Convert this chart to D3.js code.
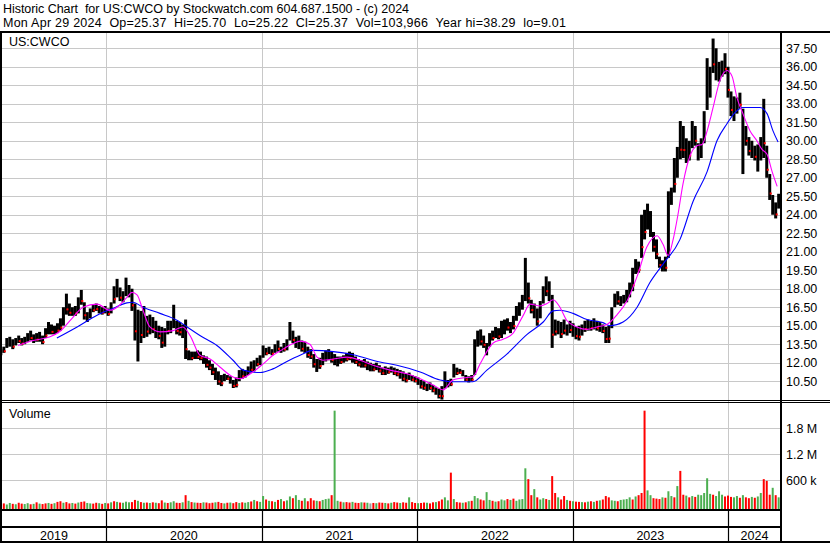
<!DOCTYPE html>
<html><head><meta charset="utf-8">
<script src="https://cdn.jsdelivr.net/npm/d3@7"></script>
<style>
body{margin:0;background:#fff;}
svg{display:block;font-family:"Liberation Sans",Arial,sans-serif;}
</style></head><body>
<svg id="c" width="830" height="543"></svg>
<script>
const startDate = "2019-04-29";
const highs = [13.1,13.3,14.0,14.1,13.9,14.0,14.2,14.0,14.1,14.4,
14.6,14.3,14.4,14.5,14.2,14.8,15.3,15.1,15.0,15.2,
15.6,16.5,17.6,16.8,16.5,16.6,17.3,17.9,16.9,16.1,
16.4,16.7,16.8,16.6,16.5,16.6,16.4,16.9,18.2,18.8,
18.1,17.8,18.9,18.3,18.0,16.8,16.3,16.2,16.6,15.8,
15.9,15.7,15.4,15.0,14.9,14.8,15.4,15.4,16.7,15.4,
15.3,15.1,15.5,13.0,12.9,12.9,13.0,12.9,12.6,12.5,
12.2,11.9,11.6,11.3,11.0,11.1,11.0,10.9,10.6,10.8,
11.4,11.5,11.4,11.7,12.1,12.2,12.4,12.6,13.4,13.2,
13.3,13.1,13.5,13.8,13.3,13.6,13.9,15.3,14.6,14.1,
14.2,13.8,13.7,13.3,13.1,12.7,12.3,12.4,12.8,13.0,
13.1,12.9,12.7,12.5,12.5,12.6,12.8,12.9,12.8,12.5,
12.3,12.2,12.3,12.1,12.0,11.9,12.0,11.8,11.6,11.7,
11.6,11.7,11.6,11.5,11.4,11.3,11.1,11.2,11.0,10.9,
10.8,10.6,10.5,10.3,10.4,10.2,10.0,9.9,10.1,11.3,
10.6,10.7,11.9,11.6,11.5,11.4,11.0,10.9,11.0,13.9,
14.6,14.7,14.2,13.6,14.4,14.6,14.9,14.8,15.4,15.5,
15.6,15.3,15.8,16.6,16.9,17.5,20.5,18.5,17.1,16.8,
16.4,17.0,18.2,19.0,18.6,17.5,15.5,15.4,15.3,15.5,
15.1,15.4,15.2,14.9,15.0,15.1,15.4,15.5,15.4,15.6,
15.4,15.3,15.1,14.9,15.0,16.5,17.6,17.8,17.4,17.5,
17.9,18.5,19.7,20.4,20.2,24.0,24.4,24.9,24.3,22.6,
22.0,20.6,20.3,20.6,25.9,26.2,28.6,29.5,31.6,31.2,
30.2,30.0,31.6,31.2,29.8,30.2,32.4,36.7,36.0,38.29,
37.5,36.4,36.5,37.1,36.0,34.0,33.6,33.5,33.9,32.6,
31.2,30.3,30.0,29.6,29.7,30.3,33.4,29.6,27.3,25.6,
25.0,25.7];
const lows = [12.6,12.8,13.2,13.3,13.1,13.4,13.6,13.4,13.5,13.7,
13.8,13.6,13.7,13.7,13.5,14.0,14.3,14.3,14.3,14.4,
14.6,15.0,15.9,15.8,15.8,15.8,16.0,16.7,15.5,15.3,
15.6,16.1,16.2,16.0,15.9,16.0,15.8,16.0,16.8,17.3,
17.0,16.9,17.4,17.3,16.2,13.8,12.1,13.6,14.0,14.1,
14.3,14.4,14.0,13.9,13.2,13.3,14.3,14.4,14.8,14.3,
14.2,14.0,12.3,12.2,12.2,12.3,12.3,12.2,11.9,11.6,
11.4,11.0,10.6,10.2,10.1,10.5,10.6,10.3,9.95,10.0,
10.5,10.7,10.8,11.0,11.2,11.3,11.7,11.8,12.4,12.6,
12.7,12.6,12.8,12.9,12.8,12.9,13.0,13.8,13.6,13.2,
13.1,12.9,12.8,12.4,12.3,11.6,11.25,11.5,11.8,12.1,
12.2,12.0,11.8,11.7,11.9,12.0,12.1,12.2,12.0,11.9,
11.7,11.6,11.6,11.4,11.3,11.3,11.4,11.2,11.0,11.0,
11.1,11.2,11.0,10.9,10.7,10.5,10.4,10.6,10.5,10.4,
10.2,9.9,9.8,9.7,9.8,9.6,9.4,9.1,9.01,9.9,
10.0,10.1,10.8,11.0,11.1,10.9,10.5,10.4,10.5,11.0,
13.3,13.4,13.2,12.6,13.3,13.8,14.0,13.9,14.0,14.3,
14.6,14.4,14.7,15.4,15.8,16.3,17.0,16.8,16.0,15.6,
15.0,15.6,16.8,17.4,17.0,13.2,14.2,14.3,14.0,14.3,
14.2,14.4,14.1,13.9,13.8,14.2,14.5,14.6,14.6,14.7,
14.6,14.5,14.4,13.6,13.6,14.8,16.5,16.7,16.6,16.8,
16.9,17.3,17.8,19.2,19.3,20.5,22.0,22.8,22.2,21.0,
20.4,19.7,19.4,19.4,20.5,24.8,25.8,27.0,28.5,28.6,
28.2,28.4,29.4,29.6,28.4,28.6,29.8,32.5,33.5,35.5,
34.9,34.8,35.2,35.4,33.5,32.0,31.6,32.2,32.6,27.3,
29.6,28.8,28.6,28.4,27.5,28.4,28.6,27.0,25.2,24.0,
23.7,24.5];
const volumes = [45,60,35,70,50,40,75,55,45,65,
40,50,85,55,45,60,70,50,65,95,
110,75,90,60,70,55,80,95,105,70,
60,55,75,65,50,70,60,85,110,95,
80,75,100,85,90,140,120,90,75,80,
70,85,75,65,130,80,70,85,110,75,
70,85,250,120,90,80,75,70,85,80,
65,75,85,95,70,60,75,80,65,90,
70,85,75,90,105,140,110,95,230,150,
120,110,95,140,160,110,130,220,180,250,
140,120,180,110,180,130,120,110,140,160,
170,250,2200,120,100,85,90,80,95,75,
70,85,80,75,60,70,65,80,75,70,
60,75,90,80,70,85,75,200,90,70,
65,70,80,75,60,85,90,110,150,200,
130,770,160,90,80,75,85,110,120,230,
180,150,130,320,140,120,100,110,150,130,
160,140,170,120,150,160,870,620,250,390,
200,150,180,160,140,690,300,200,150,230,
140,120,110,100,95,90,85,100,110,95,
120,130,150,230,200,130,120,110,140,150,
160,200,150,220,250,300,2200,360,250,180,
170,160,200,190,340,230,200,460,810,260,
240,200,230,210,260,250,300,640,280,260,
230,340,260,220,240,210,200,230,190,250,
200,180,210,190,220,300,620,580,260,420,
250,200];
const volDir = "grggrgrrgg"+"rgrgrrgrgr"+"rgrrgrgrrg"+"grrgrgrgrg"+"rgggrrgrgr"+
"grgrrgrggr"+"rgrgrgrrgr"+"rrgrrgrgrr"+"grggrgrggr"+"grgrgrggrg"+
"grgrrrgrgg"+"grggrgrrgr"+"rgrgnrgrrg"+"rgrrgrrgrr"+"grrgrrgrrg"+
"grgrrgrgrg"+"grrggrgrgg"+"rgrggggrrg"+"rggrgrrgrr"+"grgrrgrgrg"+
"rgrrrggrgg"+"ggrgrrrggr"+"rrgrggrgrr"+"grgrgggggr"+"gggrrrggrg"+
"rrgrggrrrg"+"rg";
const fastMA = [[5.8,13.4],[10.8,13.8],[16.5,14.1],[19.9,14.55],[23.9,15.6],[27.6,16.5],[32.3,16.75],
[36.6,16.25],[39,16.5],[42.3,17.3],[44,17.7],[45.7,17.5],[47.7,16.25],[50,14.9],[53.4,14.5],
[57.8,14.6],[61.1,14.9],[63.5,14.2],[66.8,12.6],[70.2,12.3],[73.5,11.65],[77.9,10.85],[80.3,10.7],
[84.6,11.25],[88,11.9],[91.3,12.6],[94.7,13.1],[98,13.55],[100.4,13.75],[103.7,13.5],[106.1,12.45],
[108.1,12.2],[111.5,12.3],[116.2,12.45],[120.5,12.2],[124.9,11.8],[130.6,11.4],[136.3,11.1],
[140.7,10.7],[145,10.2],[148.4,9.8],[151.7,10.6],[156.4,10.8],[158.4,10.85],[160.8,11.9],
[165.2,13.6],[168.5,13.9],[171.9,14.4],[175.2,15.8],[177.6,16.75],[180.9,16.6],[183.3,16.8],
[185.3,17.1],[187.6,16.5],[190,15.4],[193.3,14.9],[196.7,14.7],[200,14.9],[203.4,15.1],
[206.8,15.9],[210.1,17.0],[213.5,19.0],[216.8,21.4],[220.2,22.3],[222.2,21.6],[223.9,20.7],
[225.6,22.0],[227.2,24.0],[228.9,26.5],[231.3,28.8],[233.6,29.6],[235.3,29.7],[237,30.8],
[239,32.7],[241.3,34.9],[243.7,35.7],[245.4,35.2],[247,33.5],[249,32.2],[251.4,30.8],
[253.7,30.0],[255.4,29.3],[257.1,28.9],[258.8,27.5],[260.5,26.3]];
const slowMA = [[18.8,14.0],[25.6,14.9],[32.3,15.85],[37.6,16.4],[42.3,16.85],[44.3,16.9],[47.7,16.5],
[53.4,16.0],[59.1,15.45],[62.5,14.9],[66.8,14.2],[72.5,13.4],[77.9,12.2],[81.3,11.4],[87,11.2],
[91.3,11.5],[96,12.1],[100.4,12.6],[104.8,13.0],[111.5,12.9],[118.2,12.65],[127.2,12.05],
[132.9,11.8],[140.7,11.25],[147.4,10.6],[151.7,10.45],[158.4,10.45],[163.1,11.4],[169.8,12.7],
[176.6,14.3],[182,15.3],[185.3,16.2],[187.6,16.25],[192,16.0],[196.7,15.5],[202,15.25],
[204.4,15.0],[208.8,15.3],[213.5,16.5],[217.8,18.5],[222.2,20.0],[227.9,22.0],[232.3,25.1],
[237,27.5],[240.3,30.0],[243.7,31.4],[246.4,32.3],[249,32.7],[254.8,32.7],[257.1,32.2],
[259.1,30.8],[260.8,29.9]];
const priceTicks = [10.5,12,13.5,15,16.5,18,19.5,21,22.5,24,25.5,27,28.5,30,31.5,33,34.5,36,37.5];
const volTicks = [600000,1200000,1800000];
const volTickLabels = ["600 k","1.2 M","1.8 M"];
const years = [2019,2020,2021,2022,2023,2024];
const headerLines = ["Historic Chart  for US:CWCO by Stockwatch.com 604.687.1500 - (c) 2024",
"Mon Apr 29 2024  Op=25.37  Hi=25.70  Lo=25.22  Cl=25.37  Vol=103,966  Year hi=38.29  lo=9.01"];
const symbol = "US:CWCO";

const svg = d3.select("#c");
const W = 830, H = 543;
const L = 2, R = 781, pTop = 33, pBot = 400, vTop = 402, vBot = 509;
const start = new Date(startDate + "T00:00:00Z");
const wkDate = w => new Date(start.getTime() + w * 7 * 86400000);

const x = d3.scaleUtc().domain([new Date(Date.UTC(2020,0,1)), new Date(Date.UTC(2024,0,1))]).range([106,728]);
const y = d3.scaleLinear().domain([8.975, 38.74]).range([pBot, pTop]);
const yv = d3.scaleLinear().domain([0, 2400000]).range([506, 402]);

svg.append("rect").attr("width",W).attr("height",H).attr("fill","#fff");

// header
const headerWidths = [406, 563];
headerLines.forEach((t,i)=>{
  svg.append("text").attr("x",3).attr("y",12.5+i*14.5).attr("font-size",12.5)
    .attr("fill","#000")
    .attr("textLength",headerWidths[i]).attr("lengthAdjust","spacing")
    .text(t.replace(/  /g, "\u00a0 "));
});

const grid = "#c8c8c8";
svg.append("g").selectAll("line").data(priceTicks).join("line")
  .attr("x1",L).attr("x2",R).attr("y1",d=>Math.round(y(d))+0.5).attr("y2",d=>Math.round(y(d))+0.5)
  .attr("stroke",grid);
svg.append("g").selectAll("line").data(volTicks).join("line")
  .attr("x1",L).attr("x2",R).attr("y1",d=>Math.round(yv(d))+0.5).attr("y2",d=>Math.round(yv(d))+0.5)
  .attr("stroke",grid);
const yb = years.slice(1).map(yr=>Math.round(x(new Date(Date.UTC(yr,0,1))))+0.5);
svg.append("g").selectAll("line").data(yb).join("line")
  .attr("x1",d=>d).attr("x2",d=>d).attr("y1",pTop).attr("y2",vBot).attr("stroke",grid);

// price bars
svg.append("clipPath").attr("id","pc").append("rect").attr("x",L).attr("y",pTop).attr("width",R-L).attr("height",pBot-pTop);
const pg = svg.append("g").attr("clip-path","url(#pc)");
const idx = d3.range(highs.length);
pg.append("g").selectAll("line").data(idx).join("line")
  .attr("x1",i=>x(wkDate(i))).attr("x2",i=>x(wkDate(i)))
  .attr("y1",i=>y(highs[i])).attr("y2",i=>y(lows[i]))
  .attr("stroke","#000").attr("stroke-width",3);
pg.append("g").selectAll("rect").data(idx.filter(i=>volDir[i]==="r")).join("rect")
  .attr("x",i=>x(wkDate(i))).attr("y",i=>y(lows[i]+(highs[i]-lows[i])*0.25)-1)
  .attr("width",2).attr("height",2).attr("fill","#ff0000");

const line = d3.line().x(d=>x(wkDate(d[0]))).y(d=>y(d[1])).curve(d3.curveMonotoneX);
pg.append("path").attr("d",line(slowMA)).attr("fill","none").attr("stroke","#0000ff").attr("stroke-width",1.1);
pg.append("path").attr("d",line(fastMA)).attr("fill","none").attr("stroke","#ff00ff").attr("stroke-width",1.1);

// volume bars
const vcol = {g:"#4caf50", r:"#ff0000", n:"#a0a0a0"};
svg.append("g").selectAll("rect").data(idx).join("rect")
  .attr("x",i=>x(wkDate(i))-1).attr("width",2)
  .attr("y",i=>yv(volumes[i]*1000)).attr("height",i=>vBot-yv(volumes[i]*1000))
  .attr("fill",i=>vcol[volDir[i]]);

// labels
svg.append("text").attr("x",9).attr("y",45.5).attr("font-size",12.5).text(symbol);
svg.append("text").attr("x",9).attr("y",417.5).attr("font-size",12.5).text("Volume");
svg.append("g").selectAll("text").data(priceTicks).join("text")
  .attr("x",786).attr("y",d=>y(d)+4.5).attr("font-size",12.5).attr("fill","#000")
  .text(d=>d3.format(".2f")(d));
svg.append("g").selectAll("text").data(volTicks).join("text")
  .attr("x",786).attr("y",d=>yv(d)+4.5).attr("font-size",12.5).attr("fill","#000")
  .text((d,i)=>volTickLabels[i]);

// frame
const blk = (x1,y1,x2,y2,w)=>svg.append("line").attr("x1",x1).attr("y1",y1).attr("x2",x2).attr("y2",y2).attr("stroke","#000").attr("stroke-width",w);
blk(0,32,W,32,2);
blk(1,31,1,H,2);
blk(781,31,781,H,2);
blk(0,H-1,W,H-1,2);
blk(0,400.5,W,400.5,1);
blk(0,402.5,W,402.5,1);
blk(0,510,781,510,2);
blk(0,527,781,527,2);
yb.forEach(b=>blk(b,510,b,542,1.2));
years.forEach(yr=>{
  const a = Math.max(L, x(new Date(Date.UTC(yr,0,1))));
  const b = Math.min(R, x(new Date(Date.UTC(yr+1,0,1))));
  svg.append("text").attr("x",(a+b)/2).attr("y",539.5).attr("text-anchor","middle").attr("font-size",12.5).text(yr);
});
</script>
</body></html>
